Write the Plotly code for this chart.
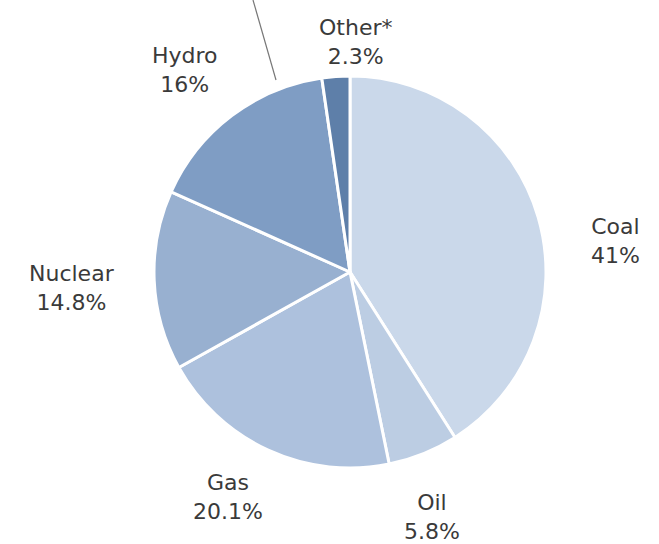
import plotly.graph_objects as go

# Electricity generation by fuel, share of total (%)
fuels = ["Coal", "Oil", "Gas", "Nuclear", "Hydro", "Other*"]
shares = [41.0, 5.8, 20.1, 14.8, 16.0, 2.3]
share_text = ["41%", "5.8%", "20.1%", "14.8%", "16%", "2.3%"]
colors = ["#cad8ea", "#bccde3", "#adc1dd", "#98b0d0", "#7f9dc4", "#5e7fa9"]

W, H = 659, 544
cx, cy, r = 350, 272, 196

fig = go.Figure(
    go.Pie(
        labels=fuels,
        values=shares,
        sort=False,
        direction="clockwise",
        rotation=0,
        textinfo="none",
        hoverinfo="label+percent",
        marker=dict(colors=colors, line=dict(color="white", width=3)),
        domain=dict(x=[(cx - r) / W, (cx + r) / W],
                    y=[(H - cy - r) / H, (H - cy + r) / H]),
        showlegend=False,
    )
)

# label block centres (pixels from top-left) for each slice
label_pos = [(615, 241), (432, 517), (228, 497), (72, 288), (185, 70), (355, 42)]
for name, txt, (lx, ly) in zip(fuels, share_text, label_pos):
    fig.add_annotation(
        x=lx / W, y=1 - ly / H, xref="paper", yref="paper",
        xanchor="center", yanchor="middle",
        text=f"{name}<br>{txt}", showarrow=False,
        font=dict(family="DejaVu Sans", size=22, color="#3a3a3a"),
        align="center",
    )

# leader line running off the top edge
fig.add_shape(type="line", xref="paper", yref="paper",
              x0=253 / W, y0=1.0, x1=276 / W, y1=1 - 80 / H,
              line=dict(color="#777777", width=1.2))

fig.update_layout(
    width=W, height=H,
    margin=dict(l=0, r=0, t=0, b=0),
    paper_bgcolor="white",
    plot_bgcolor="white",
)

fig.write_html("out.html")
